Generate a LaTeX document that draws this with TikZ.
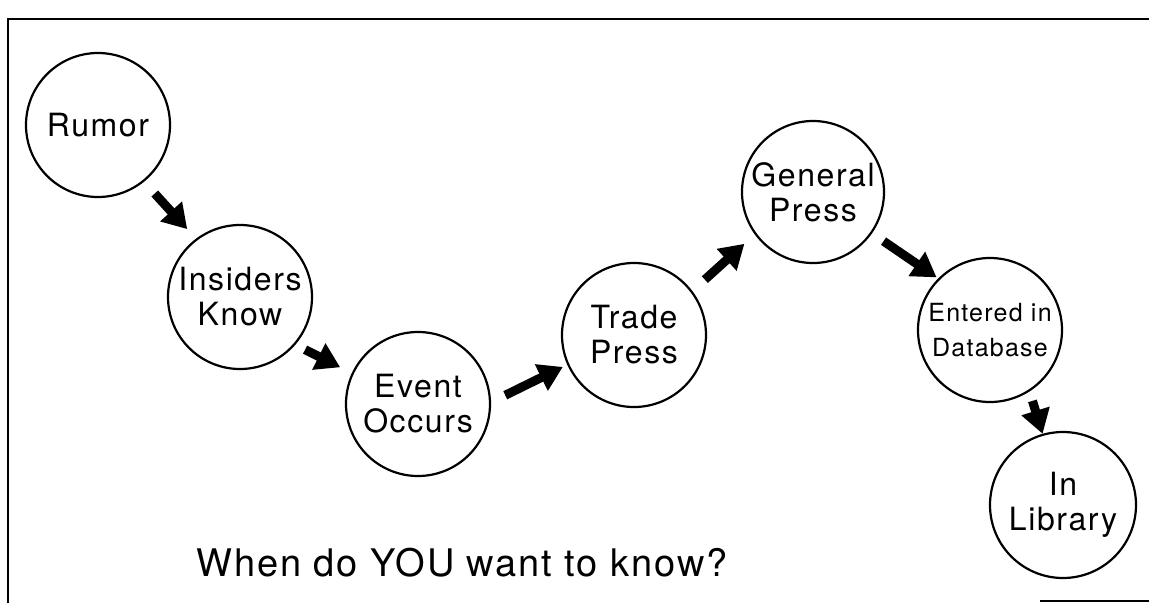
\documentclass[tikz,border=0pt]{standalone}
\usepackage{fontspec}
\setmainfont{TeX Gyre Heros}[LetterSpace=5]
\usetikzlibrary{arrows.meta}
\tikzset{
  stage/.style={circle, draw, line width=2.2pt, minimum size=144pt, inner sep=0pt, outer sep=0pt,
    align=center, font=\fontsize{32}{35}\selectfont},
  smallstage/.style={stage, font=\fontsize{25}{35}\selectfont},
  bigarrow/.style={line width=9pt, -{Triangle[length=24pt,width=28pt]}},
  frame/.style={line width=2.2pt}
}
\begin{document}
\begin{tikzpicture}[x=1pt,y=-1pt]
\useasboundingbox (0,0) rectangle (1149,603);
\draw[frame] (8,603) -- (8,19) -- (1149,19);
\draw[line width=1.5pt] (1040,601) -- (1149,601);

\node[stage] (rumor) at (98,125) {Rumor};
\node[stage] (insiders) at (240,297) {Insiders\\Know};
\node[stage] (event) at (418,404) {Event\\Occurs};
\node[stage] (trade) at (634,335) {Trade\\Press};
\node[stage, minimum size=142pt] (general) at (813,192) {General\\Press};
\node[smallstage] (entered) at (990,330) {Entered in\\Database};
\node[stage, minimum size=146pt] (library) at (1063,505) {In\\Library};

\draw[bigarrow, shorten <=17pt, shorten >=14pt] (rumor.-51.8) -- (insiders.127);
\draw[bigarrow, shorten <=12pt, shorten >=14pt] (insiders.-41.6) -- (event.155.2);
\draw[bigarrow, shorten <=17pt, shorten >=6pt] (event.1.3) -- (trade.204.3);
\draw[bigarrow, shorten <=18pt, shorten >=15pt] (trade.37.8) -- (general.216.1);
\draw[bigarrow, shorten <=15pt, shorten >=3pt] (general.-35.5) -- (entered.135);
\draw[bigarrow, shorten <=11pt, shorten >=1pt] (entered.-57.3) -- (library.106);

\node[font=\fontsize{38}{40}\selectfont] (question) at (462,563) {When do YOU want to know?};
\end{tikzpicture}
\end{document}
